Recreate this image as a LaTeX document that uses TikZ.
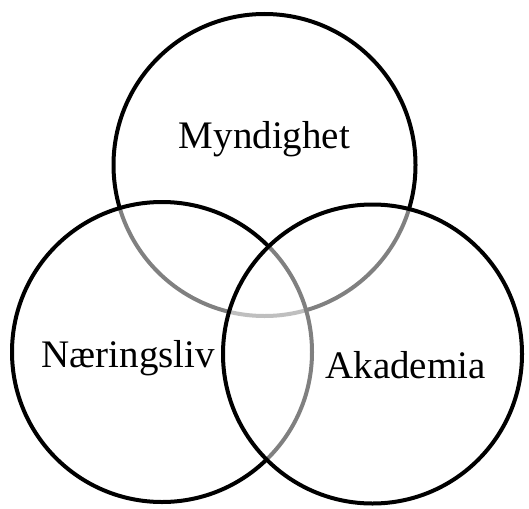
\documentclass[tikz,border=0pt]{standalone}
\usepackage{fontspec}
\setmainfont{Liberation Serif}
\begin{document}
\begin{tikzpicture}[x=1pt,y=-1pt,
  ring/.style={draw=black,line width=4pt},
  veil/.style={ring,fill=white,fill opacity=0.5},
  label/.style={anchor=base,inner sep=0pt,font=\fontsize{39}{46}\selectfont}]
  \useasboundingbox (0,0) rectangle (529,508);
  % three overlapping sets; later circles half-cover the earlier outlines
  \draw[ring] (264.5,165) circle[radius=151];
  \draw[veil] (162,352) circle[radius=150];
  \draw[veil] (372.5,354) circle[radius=149.5];
  \node[label] (myn) at (264.5,148) {Myndighet};
  \node[label] (nae) at (128.5,367) {Næringsliv};
  \node[label] (aka) at (405.5,378) {Akademia};
\end{tikzpicture}
\end{document}
